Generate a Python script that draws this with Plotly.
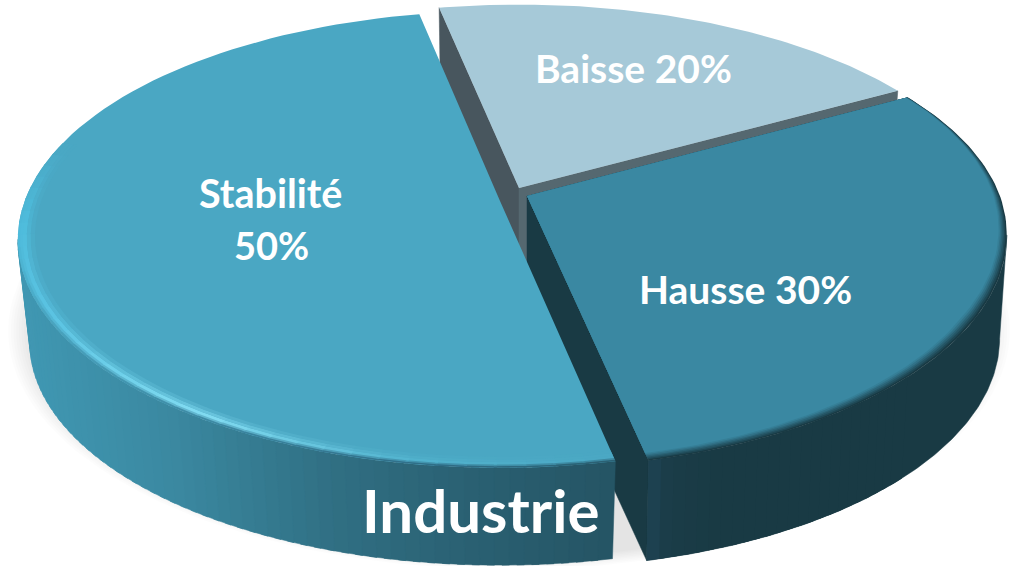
import math
import plotly.graph_objects as go

categories = ["Baisse", "Hausse", "Stabilité"]
values = [20, 30, 50]
chart_name = "Industrie"

START = -101.4
K = -0.168
RX, RY = 473.0, 222.0
TANGENT = math.degrees(math.asin(-K))

GEOM = {
    "Baisse": dict(ax=519, ay=188, sx=0.995, sy=0.965, syf=0.965, s=0.985, dz=80, top="#A6C9D8", trim=0.0, lead=0.0),
    "Hausse": dict(ax=527, ay=196, sx=1.0, sy=1.02, syf=0.98, s=0.985, dz=104, top="#3A88A2", trim=1.0, lead=0.0),
    "Stabilité": dict(ax=500, ay=201, sx=1.005, sy=1.0, syf=1.0, s=0.975, dz=104, top="#4AA7C3", trim=0.0, lead=-0.3),
}

def hex2rgb(c):
    return tuple(int(c[i:i + 2], 16) for i in (1, 3, 5))

def mix(a, b, f):
    ca, cb = hex2rgb(a), hex2rgb(b)
    return "#%02x%02x%02x" % tuple(round(x + (y - x) * f) for x, y in zip(ca, cb))

def ramp(stops, x):
    if x <= stops[0][0]:
        return stops[0][1]
    for (x0, c0), (x1, c1) in zip(stops, stops[1:]):
        if x <= x1:
            return mix(c0, c1, (x - x0) / (x1 - x0))
    return stops[-1][1]

def pt(g, deg, r=1.0, lower=False):
    u = r * math.cos(math.radians(deg))
    v = r * math.sin(math.radians(deg))
    den = 1 + K * v
    s = g["s"] if lower else 1.0
    dz = g["dz"] if lower else 0.0
    sy = g.get("sy", 1) if v >= 0 else g.get("syf", 1)
    return (g["ax"] + RX * g.get("sx", 1) * s * u / den,
            g["ay"] + dz + RY * sy * s * v / den)

def arc(g, a0, a1, r=1.0, lower=False, n=90):
    return [pt(g, a0 + (a1 - a0) * i / n, r, lower) for i in range(n + 1)]

fig = go.Figure()

def poly(points, color, line=0.0):
    xs = [p[0] for p in points] + [points[0][0]]
    ys = [p[1] for p in points] + [points[0][1]]
    fig.add_trace(go.Scatter(
        x=xs, y=ys, mode="lines", fill="toself", fillcolor=color,
        line=dict(color=color, width=line), hoverinfo="skip", showlegend=False))

def wedge(g, a0, a1, r, color):
    poly([pt(g, 0, 0)] + arc(g, a0, a1, r), color)

# slice angles, from the shares
angles = {}
cur = START
for cat, val in zip(categories, values):
    angles[cat] = (cur + GEOM[cat]["lead"], cur + val * 3.6 - GEOM[cat]["trim"])
    cur += val * 3.6

# soft ground shadow
shadow = dict(ax=509, ay=291, s=1.0, dz=0)
for i in range(9):
    sc = 1.044 - i * 0.0055
    g = dict(shadow, s=sc)
    poly(arc(g, 0, 360, 1.0, True, 160), "rgba(0,0,0,0.0125)")

# --- Baisse
g = GEOM["Baisse"]
a0, a1 = angles["Baisse"]
poly([pt(g, 0, 0), pt(g, a0), pt(g, a0, 1, True), pt(g, 0, 0, True)], "#48565E", 0.5)
poly([pt(g, 0, 0), pt(g, a1), pt(g, a1, 1, True), pt(g, 0, 0, True)], "#556870", 0.5)
poly([pt(g, 0, 0), (g["ax"] + 8, g["ay"] + 2), (g["ax"] + 8, g["ay"] + 80), (g["ax"], g["ay"] + 80)], "#556870")
wedge(g, a0, a1, 1.0, g["top"])

# --- Hausse
g = GEOM["Hausse"]
a0, a1 = angles["Hausse"]
poly([pt(g, 0, 0), pt(g, a1), pt(g, a1, 1, True), pt(g, 0, 0, True)], "#193A44", 0.5)
poly(arc(g, TANGENT, a1, 1.0, False, 120) + arc(g, a1, TANGENT, 1.0, True, 120), "#193A44", 0.5)
for i in range(24):
    t0 = a1 - (a1 - a0) * i / 80
    t1 = a1 - (a1 - a0) * (i + 1.5) / 80
    x = pt(g, t0)[0]
    col = ramp([(640, "#1E4455"), (665, "#1A3C47"), (720, "#193A44")], x)
    poly(arc(g, t0, t1, 1.0, False, 2) + arc(g, t1, t0, 1.0, True, 2), col)

def rim_width(deg):
    # the bevel is thin on the far side and wide on the near side
    return 0.2 + 0.8 * min(1.0, max(0.0, (deg + 25) / 55))

top_arc = [a0 + (a1 - a0) * i / 90 for i in range(91)]
for w, f in [(0.0, 0.0), (0.004, 0.18), (0.008, 0.36), (0.012, 0.54), (0.016, 0.72), (0.020, 0.88), (0.024, 1.0)]:
    pts = [pt(g, 0, 0)] + [pt(g, t, 1.0 - w * rim_width(t)) for t in top_arc]
    poly(pts, mix("#193A44", g["top"], f))

# --- Stabilité
g = GEOM["Stabilité"]
a0, a1 = angles["Stabilité"]
wall_stops = [(15, "#4098B3"), (170, "#3B89A1"), (340, "#306F83"), (480, "#2A6072"), (615, "#255565")]
wall_end = 180 - TANGENT
strips = 60
for i in range(strips):
    t0 = a0 + (wall_end - a0) * i / strips
    t1 = min(wall_end, a0 + (wall_end - a0) * (i + 1.5) / strips)
    col = ramp(wall_stops, pt(g, t0)[0])
    poly(arc(g, t0, t1, 1.0, False, 2) + arc(g, t1, t0, 1.0, True, 2), col, 0.5)

wedge(g, a0, a1, 1.0, g["top"])
rim_stops = [(78, "#4AA7C3"), (100, "#52B3CE"), (123, "#82DCF2"), (150, "#5CC4E2"), (175, "#4EBCDC"), (195, "#4AA7C3")]
edge_stops = [(78, "#2A6072"), (100, "#30708A"), (123, "#3F8BA5"), (150, "#4AA5C0"), (172, "#4EBCDC"), (195, "#4AA7C3")]
rings = [(1.0, 0.0, "edge"), (0.995, 0.55, "edge"), (0.990, 1.0, "rim"), (0.982, 0.55, "rim"), (0.974, 0.2, "rim")]
segs = 60
for r, f, kind in rings:
    for i in range(segs):
        t0 = a0 + (a1 - a0) * i / segs
        t1 = a0 + (a1 - a0) * (i + 1.1) / segs
        tm = 0.5 * (t0 + t1)
        if tm > 197:
            continue
        rim = ramp(rim_stops, tm)
        if kind == "edge":
            col = mix(ramp(edge_stops, tm), rim, f)
        else:
            col = mix(g["top"], rim, f)
        poly([pt(g, t0, r), pt(g, t1, r), pt(g, t1, r - 0.0085), pt(g, t0, r - 0.0085)], col)

def label(text, x, y, size):
    fig.add_annotation(x=x, y=y, text=text, showarrow=False, xref="x", yref="y",
                       align="center",
                       font=dict(family="Lato", size=size, color="white", weight=700))

label(f"{categories[0]} {values[0]}%", 633, 68, 39)
label(f"{categories[1]} {values[1]}%", 745, 289, 39)
label(categories[2], 270, 192, 39.5)
label(f"{values[2]}%", 271, 245, 38)
label(chart_name, 480, 510, 60)

fig.update_layout(
    width=1011, height=566, margin=dict(l=0, r=0, t=0, b=0),
    paper_bgcolor="white", plot_bgcolor="white", showlegend=False,
    xaxis=dict(range=[0, 1011], visible=False, fixedrange=True),
    yaxis=dict(range=[566, 0], visible=False, fixedrange=True),
)
fig.write_html("out.html", config=dict(displayModeBar=False),
               post_script="document.body.style.margin='0';document.body.style.overflow='hidden';")
